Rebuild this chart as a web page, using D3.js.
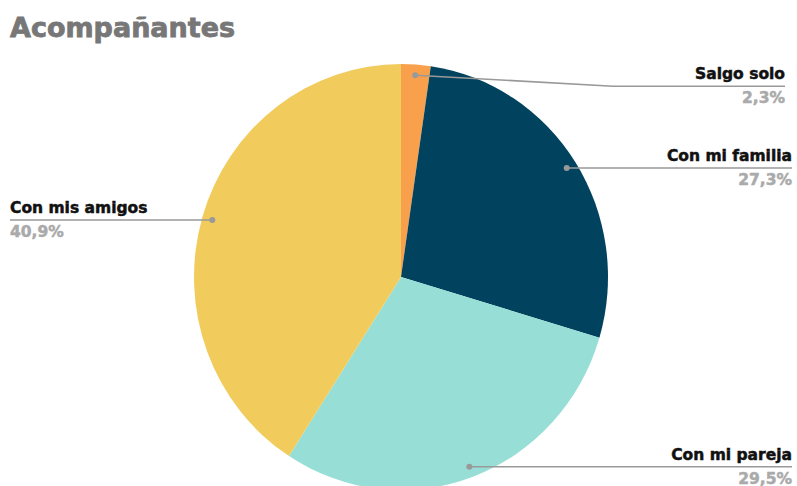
<!DOCTYPE html>
<html>
<head>
<meta charset="utf-8">
<script src="https://cdn.jsdelivr.net/npm/d3@7"></script>
<style>
  html, body { margin: 0; padding: 0; background: #fff; }
  svg { display: block; }
</style>
</head>
<body>
<svg id="chart" width="797" height="486"></svg>
<script>
// Who people go out with (share of answers, %)
const categories = ["Salgo solo", "Con mi familia", "Con mi pareja", "Con mis amigos"];
const values = [2.3, 27.3, 29.5, 40.9];
const valueLabels = ["2,3%", "27,3%", "29,5%", "40,9%"];
const colors = ["#F9A04C", "#01425E", "#97DFD6", "#F1CC5C"];

const W = 797, H = 486;
const cx = 401, cy = 277;
const rx = 207, ry = 213;   // pie is drawn slightly taller than wide

const svg = d3.select("#chart");

svg.append("text")
  .attr("x", 10).attr("y", 37)
  .attr("font-family", "DejaVu Sans")
  .attr("font-weight", "bold")
  .attr("font-size", 27)
  .attr("fill", "#777")
  .attr("stroke", "#777")
  .attr("stroke-width", 0.8)
  .text("Acompañantes");

const pie = d3.pie().sort(null).value(d => d)(values);
const arc = d3.arc().innerRadius(0).outerRadius(rx);

const g = svg.append("g")
  .attr("transform", `translate(${cx},${cy}) scale(1,${ry / rx})`);

g.selectAll("path").data(pie).enter().append("path")
  .attr("d", arc)
  .attr("fill", (d, i) => colors[i]);

// label placement: side of chart and where the leader line runs horizontally
const layout = [
  { side: "right", lineDy: 11, xEnd: 785 },
  { side: "right", lineDy: 0, xEnd: 792 },
  { side: "right", lineDy: 0, xEnd: 792 },
  { side: "left", lineDy: 0, xEnd: 10 }
];

const k = 0.95;
pie.forEach((d, i) => {
  const a = (d.startAngle + d.endAngle) / 2;
  const px = cx + rx * k * Math.sin(a);
  const py = cy - ry * k * Math.cos(a);
  const L = layout[i];
  const ly = py + L.lineDy;
  const pts = L.lineDy ? [[px, py], [613, ly], [L.xEnd, ly]] : [[px, py], [L.xEnd, ly]];

  svg.append("path")
    .attr("d", d3.line()(pts))
    .attr("fill", "none")
    .attr("stroke", "#999")
    .attr("stroke-width", 1.6);

  svg.append("circle")
    .attr("cx", px).attr("cy", py).attr("r", 3)
    .attr("fill", "#999");

  const anchor = L.side === "right" ? "end" : "start";
  svg.append("text")
    .attr("x", L.xEnd).attr("y", ly - 7)
    .attr("text-anchor", anchor)
    .attr("font-family", "DejaVu Sans")
    .attr("font-weight", "bold")
    .attr("font-size", 15.5)
    .attr("fill", "#111")
    .attr("stroke", "#111")
    .attr("stroke-width", 0.5)
    .text(categories[i]);

  svg.append("text")
    .attr("x", L.xEnd).attr("y", ly + 17)
    .attr("text-anchor", anchor)
    .attr("font-family", "DejaVu Sans")
    .attr("font-weight", "bold")
    .attr("font-size", 15.5)
    .attr("fill", "#aaa")
    .attr("stroke", "#aaa")
    .attr("stroke-width", 0.5)
    .text(valueLabels[i]);
});
</script>
</body>
</html>
